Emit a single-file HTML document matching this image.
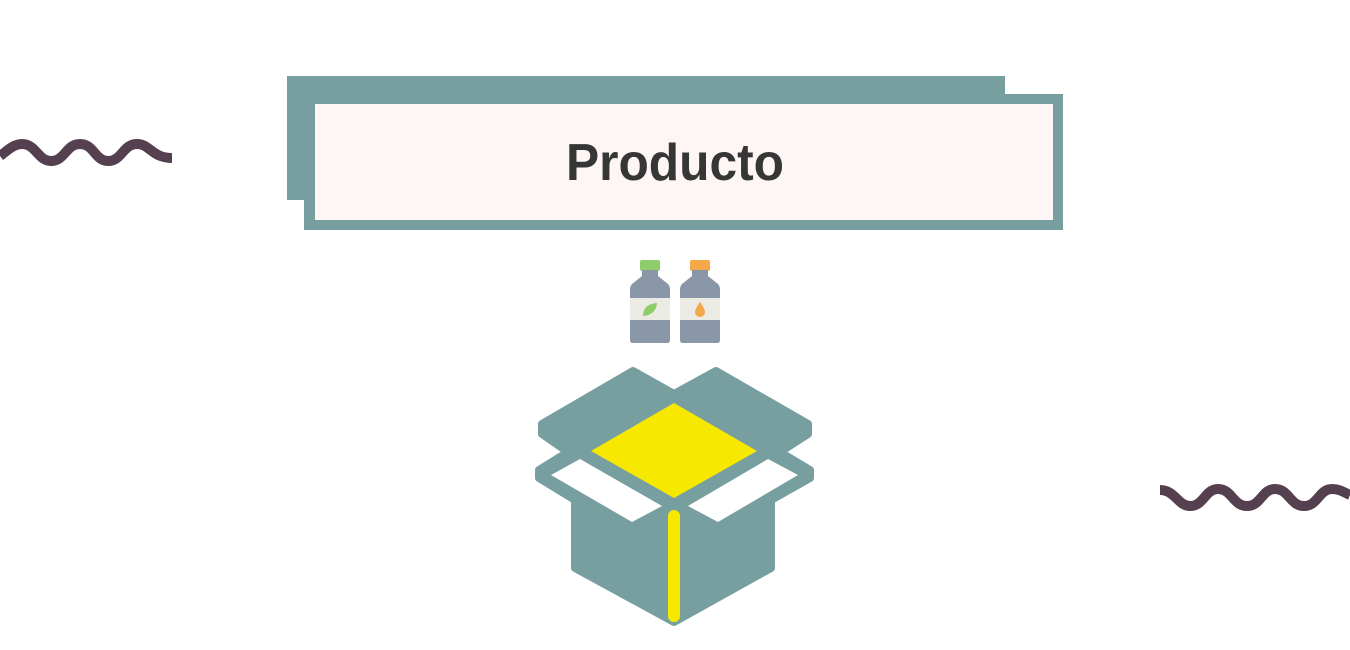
<!DOCTYPE html>
<html><head><meta charset="utf-8"><style>
html,body{margin:0;padding:0;background:#fff;}
body{width:1350px;height:650px;position:relative;overflow:hidden;}
svg{position:absolute;left:0;top:0;}
</style></head><body>
<svg width="1350" height="650" viewBox="0 0 1350 650" xmlns="http://www.w3.org/2000/svg">
<path d="M0,156 C8,150 14,144 22,144 C36,144 38,161 51,161 C65,161 66,144 80,144 C94,144 95,161 108,161 C122,161 123,144 137,144 C150,144 152,158 172,158" fill="none" stroke="#54404f" stroke-width="10"/>
<path d="M1160,490 C1175,490 1178,506 1190,506 C1204,506 1205,489 1218,489 C1232,489 1233,506 1247,506 C1261,506 1262,489 1275,489 C1289,489 1290,506 1304,506 C1318,506 1319,489 1332,489 C1340,489 1345,493 1350,495" fill="none" stroke="#54404f" stroke-width="10"/>
<rect x="287" y="76" width="718" height="124" fill="#789fa0"/>
<rect x="304" y="94" width="759" height="136" fill="#789fa0"/>
<rect x="315" y="104" width="738" height="116" fill="#fdf6f4"/>
<text x="675" y="180" text-anchor="middle" font-family="Liberation Sans, sans-serif" font-weight="bold" font-size="52" fill="#363636" textLength="218" lengthAdjust="spacingAndGlyphs">Producto</text>
<!-- bottles -->
<rect x="640" y="260" width="20" height="11" rx="2" fill="#8fcc6a"/>
<path d="M642,270 h16 v6 l10,8 q2,2 2,6 v50 q0,3 -3,3 h-34 q-3,0 -3,-3 v-50 q0,-4 2,-6 l10,-8 z" fill="#8a97a8"/>
<rect x="630" y="298" width="40" height="22" fill="#ecebe3"/>
<path d="M643,316 q0,-12 14,-13 q-1,12 -14,13 z" fill="#8fcc6a"/>
<rect x="690" y="260" width="20" height="11" rx="2" fill="#f5a84a"/>
<path d="M692,270 h16 v6 l10,8 q2,2 2,6 v50 q0,3 -3,3 h-34 q-3,0 -3,-3 v-50 q0,-4 2,-6 l10,-8 z" fill="#8a97a8"/>
<rect x="680" y="298" width="40" height="22" fill="#ecebe3"/>
<path d="M700,302 q5,7 5,10 a5,5 0 0 1 -10,0 q0,-3 5,-10 z" fill="#f5a84a"/>
<!-- box -->
<g fill="#789fa0" stroke="#789fa0" stroke-width="8" stroke-linejoin="round">
<polygon points="542,424 633,371 674,394 716,371 808,424 808,434 780,452 810,470 810,478 771,500 771,568 674,622 575,568 575,500 539,478 539,470 568,452 542,434"/>
</g>
<polygon points="551,475 580,459 662,506 632,522" fill="#fff"/>
<polygon points="688,506 768,459 798,475 718,522" fill="#fff"/>
<polygon points="674,403 757,451 674,498 591,451" fill="#f7e800"/>
<rect x="668" y="510" width="12" height="112" rx="6" fill="#f7e800"/>
</svg>
</body></html>
